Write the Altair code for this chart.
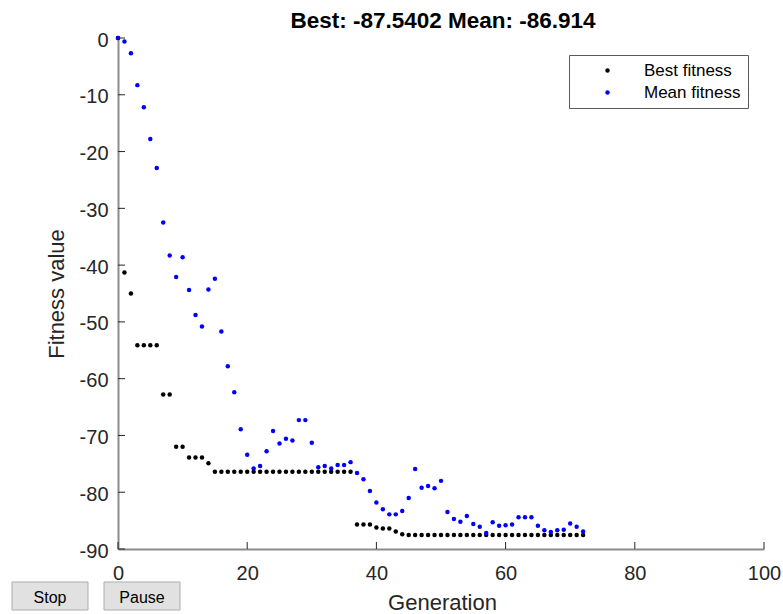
import altair as alt
import pandas as pd

# ---- data ----
generation = list(range(73))

best_fitness = [
    0.0, -41.3, -45.0, -54.1, -54.1, -54.1, -54.1, -62.8, -62.8, -72.0,
    -72.0, -73.9, -73.9, -73.9, -74.9, -76.4, -76.4, -76.4, -76.4, -76.4,
    -76.4, -76.4, -76.4, -76.4, -76.4, -76.4, -76.4, -76.4, -76.4, -76.4,
    -76.4, -76.4, -76.4, -76.4, -76.4, -76.4, -76.4, -85.7, -85.7, -85.7,
    -86.2, -86.4, -86.4, -86.9, -87.4, -87.54, -87.54, -87.54, -87.54, -87.54,
    -87.54, -87.54, -87.54, -87.54, -87.54, -87.54, -87.54, -87.54, -87.54, -87.54,
    -87.54, -87.54, -87.54, -87.54, -87.54, -87.54, -87.54, -87.54, -87.54, -87.54,
    -87.54, -87.54, -87.5402,
]

mean_fitness = [
    0.0, -0.6, -2.7, -8.3, -12.2, -17.8, -22.9, -32.5, -38.3, -42.1,
    -38.6, -44.4, -48.8, -50.8, -44.3, -42.4, -51.7, -57.8, -62.4, -68.9,
    -73.4, -75.8, -75.4, -72.8, -69.2, -71.4, -70.6, -70.9, -67.3, -67.3,
    -71.3, -75.6, -75.4, -75.8, -75.2, -75.2, -74.7, -76.6, -77.7, -79.8,
    -81.8, -83.0, -83.9, -83.9, -83.3, -81.0, -75.9, -79.2, -78.9, -79.3,
    -78.0, -83.5, -84.7, -85.2, -84.2, -85.6, -86.1, -87.2, -85.3, -85.9,
    -85.8, -85.7, -84.4, -84.4, -84.4, -85.9, -86.7, -87.0, -86.7, -86.6,
    -85.5, -86.1, -86.914,
]

series_names = ["Best fitness", "Mean fitness"]
series_colors = ["#000000", "#0000ff"]
x_ticks = [0, 20, 40, 60, 80, 100]
y_ticks = [0, -10, -20, -30, -40, -50, -60, -70, -80, -90]
chart_title = "Best: -87.5402 Mean: -86.914"
button_labels = ["Stop", "Pause"]

# ---- tables ----
df = pd.concat([
    pd.DataFrame({"gen": generation, "value": best_fitness, "series": series_names[0]}),
    pd.DataFrame({"gen": generation, "value": mean_fitness, "series": series_names[1]}),
], ignore_index=True)
df["order"] = range(len(df))

xt = pd.DataFrame({"gen": x_ticks})
yt = pd.DataFrame({"value": y_ticks})

W, H = 646, 511
FONT = "Liberation Sans"
TXT = "#262626"
HYPHEN = "replace(datum.label, '\u2212', '-')"

xscale = alt.Scale(domain=[0, 100], nice=False, zero=False)
yscale = alt.Scale(domain=[-90, 0], nice=False, zero=False)

x_axis = alt.Axis(
    values=x_ticks, title="Generation", grid=False, ticks=False, labelFlush=False,
    labelFontSize=20, labelFont=FONT, labelColor=TXT, labelPadding=14,
    domainColor="#8c8c8c", domainWidth=2,
    titleFontSize=22, titleFont=FONT, titleColor=TXT, titleFontWeight="normal",
    titleX=324, titleY=60.5, titleBaseline="alphabetic")
y_axis = alt.Axis(
    values=y_ticks, title="Fitness value", grid=False, ticks=False, labelFlush=False,
    labelFontSize=20, labelFont=FONT, labelColor=TXT, labelPadding=10, labelOffset=2,
    labelExpr=HYPHEN,
    domainColor="#8c8c8c", domainWidth=2,
    titleFontSize=22, titleFont=FONT, titleColor=TXT, titleFontWeight="normal",
    titleX=-55, titleY=255.5, titleAngle=270, titleBaseline="alphabetic")

points = alt.Chart(df).mark_point(filled=True, size=20, opacity=1).encode(
    x=alt.X("gen:Q", scale=xscale, axis=x_axis),
    y=alt.Y("value:Q", scale=yscale, axis=y_axis),
    color=alt.Color("series:N", scale=alt.Scale(domain=series_names, range=series_colors),
                    legend=alt.Legend(
                        title=None, orient="none", legendX=451, legendY=17,
                        padding=7, symbolOffset=23, labelOffset=28, rowPadding=4,
                        labelFontSize=17, labelFont=FONT, labelColor="#000000",
                        symbolType="circle", symbolSize=20, symbolStrokeWidth=0,
                        strokeColor="#5a5a5a", fillColor="#ffffff", cornerRadius=0,
                        labelLimit=300)),
    order=alt.Order("order:Q"),
)

xtick_layer = alt.Chart(xt).mark_rule(color=TXT, strokeWidth=1).encode(
    x=alt.X("gen:Q", scale=xscale, axis=x_axis),
    y=alt.value(H), y2=alt.value(H - 7),
)
ytick_layer = alt.Chart(yt).mark_rule(color=TXT, strokeWidth=1).encode(
    y=alt.Y("value:Q", scale=yscale, axis=y_axis),
    x=alt.value(0), x2=alt.value(7),
)

title_layer = alt.Chart(pd.DataFrame({"t": [chart_title]})).mark_text(
    fontSize=22.5, font=FONT, fontWeight="bold", color="#000000",
    align="center", baseline="alphabetic").encode(
    x=alt.value(325), y=alt.value(-10), text="t:N")

one = pd.DataFrame({"label": [button_labels[0]]})
two = pd.DataFrame({"label": [button_labels[1]]})

def button(data, x0, x1):
    box = alt.Chart(data).mark_rect(fill="#e1e1e1", stroke="#adadad", strokeWidth=1).encode(
        x=alt.value(x0), x2=alt.value(x1), y=alt.value(544), y2=alt.value(572))
    txt = alt.Chart(data).mark_text(fontSize=16, font=FONT, color="#000000",
                                    align="center", baseline="alphabetic").encode(
        x=alt.value((x0 + x1) / 2), y=alt.value(564.5), text="label:N")
    return box + txt

chart = alt.layer(
    points, xtick_layer, ytick_layer, title_layer,
    button(one, -106, -30), button(two, -14, 62),
).properties(
    width=W, height=H,
    autosize=alt.AutoSizeParams(type="none"),
    padding={"left": 118, "top": 38, "right": 19, "bottom": 65},
    background="#ffffff",
).configure_view(stroke=None)

chart.save("out.html", embed_options={"renderer": "svg", "actions": False})
